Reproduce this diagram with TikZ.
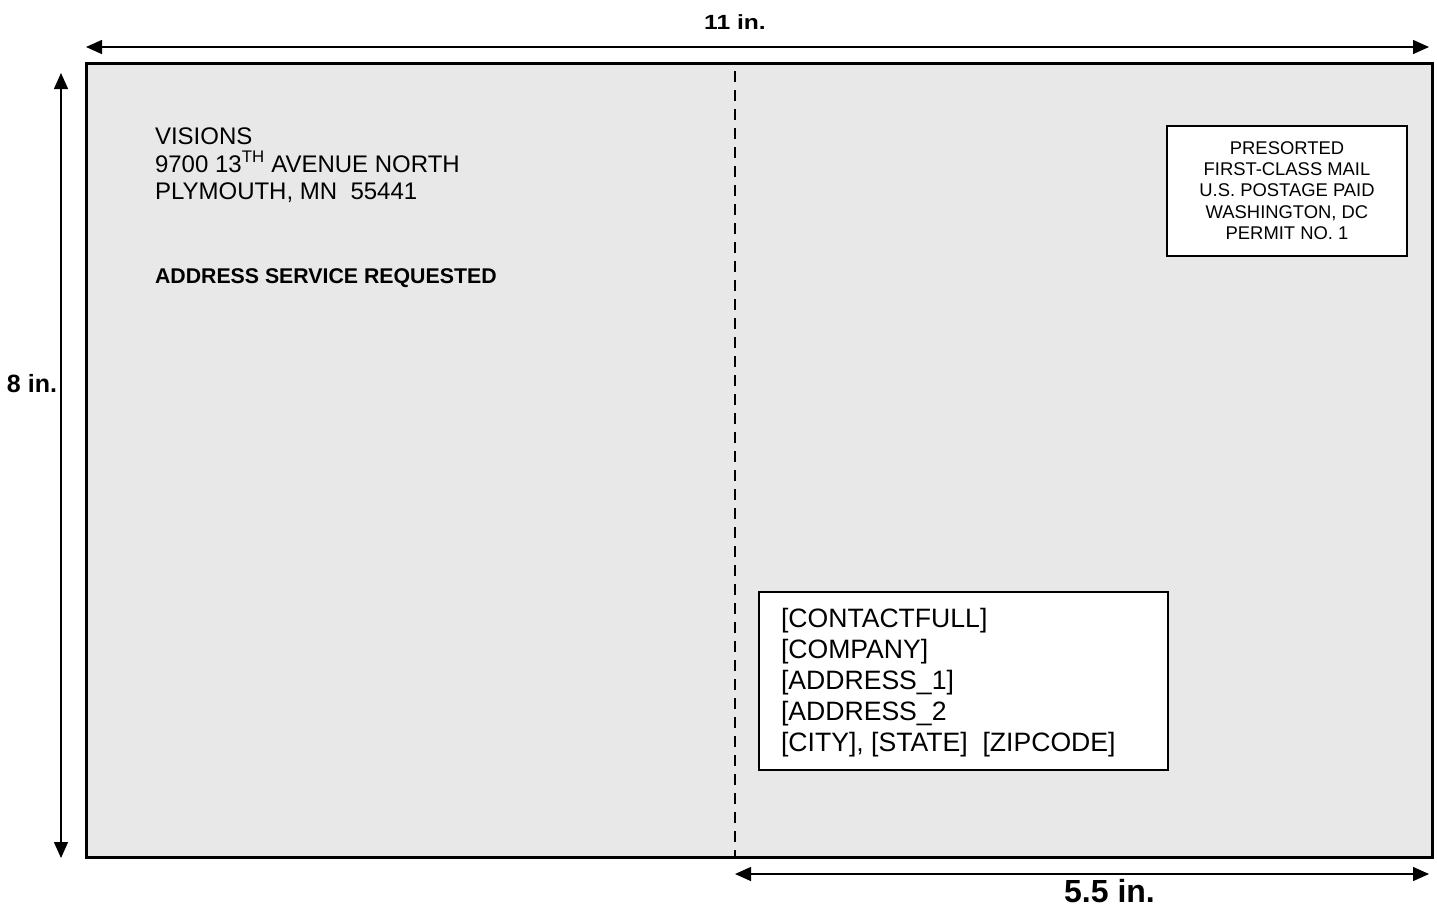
\documentclass[tikz,border=0pt]{standalone}
\usepackage{fontspec}
\setmainfont{Liberation Sans}
\usetikzlibrary{arrows.meta}
\definecolor{cardgray}{RGB}{232,232,232}
\tikzset{
  txt/.style={inner sep=0pt, outer sep=0pt},
  retaddr/.style={txt, anchor=base west, font=\fontsize{24}{27.5}\selectfont},
  retbold/.style={txt, anchor=base west, font=\bfseries\fontsize{21.3}{25}\selectfont},
  permittxt/.style={txt, anchor=base, font=\fontsize{18.4}{21}\selectfont},
  rcpt/.style={txt, anchor=base west, font=\fontsize{26.6}{31}\selectfont},
  dimlabel/.style={txt, anchor=base, font=\bfseries},
  dimarrow/.style={line width=1.4pt, {Triangle[length=16pt,width=14pt]}-{Triangle[length=16pt,width=14pt]}},
  whitebox/.style={draw=black, fill=white}
}
\begin{document}
\begin{tikzpicture}[x=1pt,y=-1pt]
\useasboundingbox (0,0) rectangle (1437,906);
% card
\draw[line width=3pt, fill=cardgray] (86,63) rectangle (1432,857);
% fold line
\coordinate (foldtop) at (735,71);
\coordinate (foldbot) at (735,857);
\draw[line width=2pt, dash pattern=on 11pt off 8pt] (foldtop) -- (foldbot);
% dimension arrows
\coordinate (tl) at (86,47);
\coordinate (tr) at (1429,47);
\draw[dimarrow] (tl) -- (tr);
\coordinate (lt) at (61,73);
\coordinate (lb) at (61,858);
\draw[dimarrow] (lt) -- (lb);
\coordinate (bl) at (735,874);
\coordinate (br) at (1429,874);
\draw[dimarrow] (bl) -- (br);
\node[dimlabel, font=\bfseries\fontsize{20.5}{22}\selectfont] (w11) at (735,29) {\scalebox{1.2}[1]{11 in.}};
\node[dimlabel, font=\bfseries\fontsize{25}{28}\selectfont] (h8) at (32,392) {8 in.};
\node[dimlabel, font=\bfseries\fontsize{32}{36}\selectfont] (w55) at (1109.5,902) {5.5 in.};
% return address
\node[retaddr] (ra1) at (155,144) {VISIONS};
\node[retaddr] (ra2) at (155,172) {9700 13\textsuperscript{TH} AVENUE NORTH};
\node[retaddr] (ra3) at (155,199) {PLYMOUTH, MN\ \ 55441};
\node[retbold] (asr) at (155,283) {ADDRESS SERVICE REQUESTED};
% permit box
\draw[whitebox, line width=2pt] (1167,126) rectangle (1407,256);
\node[permittxt] (p1) at (1287,154.3) {PRESORTED};
\node[permittxt] (p2) at (1287,175.5) {FIRST-CLASS MAIL};
\node[permittxt] (p3) at (1287,196.8) {U.S. POSTAGE PAID};
\node[permittxt] (p4) at (1287,218) {WASHINGTON, DC};
\node[permittxt] (p5) at (1287,239.3) {PERMIT NO. 1};
% recipient box
\draw[whitebox, line width=1.6pt] (759,592) rectangle (1168,770);
\node[rcpt] (r1) at (781,627.5) {[CONTACTFULL]};
\node[rcpt] (r2) at (781,658.5) {[COMPANY]};
\node[rcpt] (r3) at (781,689.5) {[ADDRESS\_1]};
\node[rcpt] (r4) at (781,720.5) {[ADDRESS\_2};
\node[rcpt] (r5) at (781,751.5) {[CITY], [STATE]\ \ [ZIPCODE]};
\end{tikzpicture}
\end{document}
